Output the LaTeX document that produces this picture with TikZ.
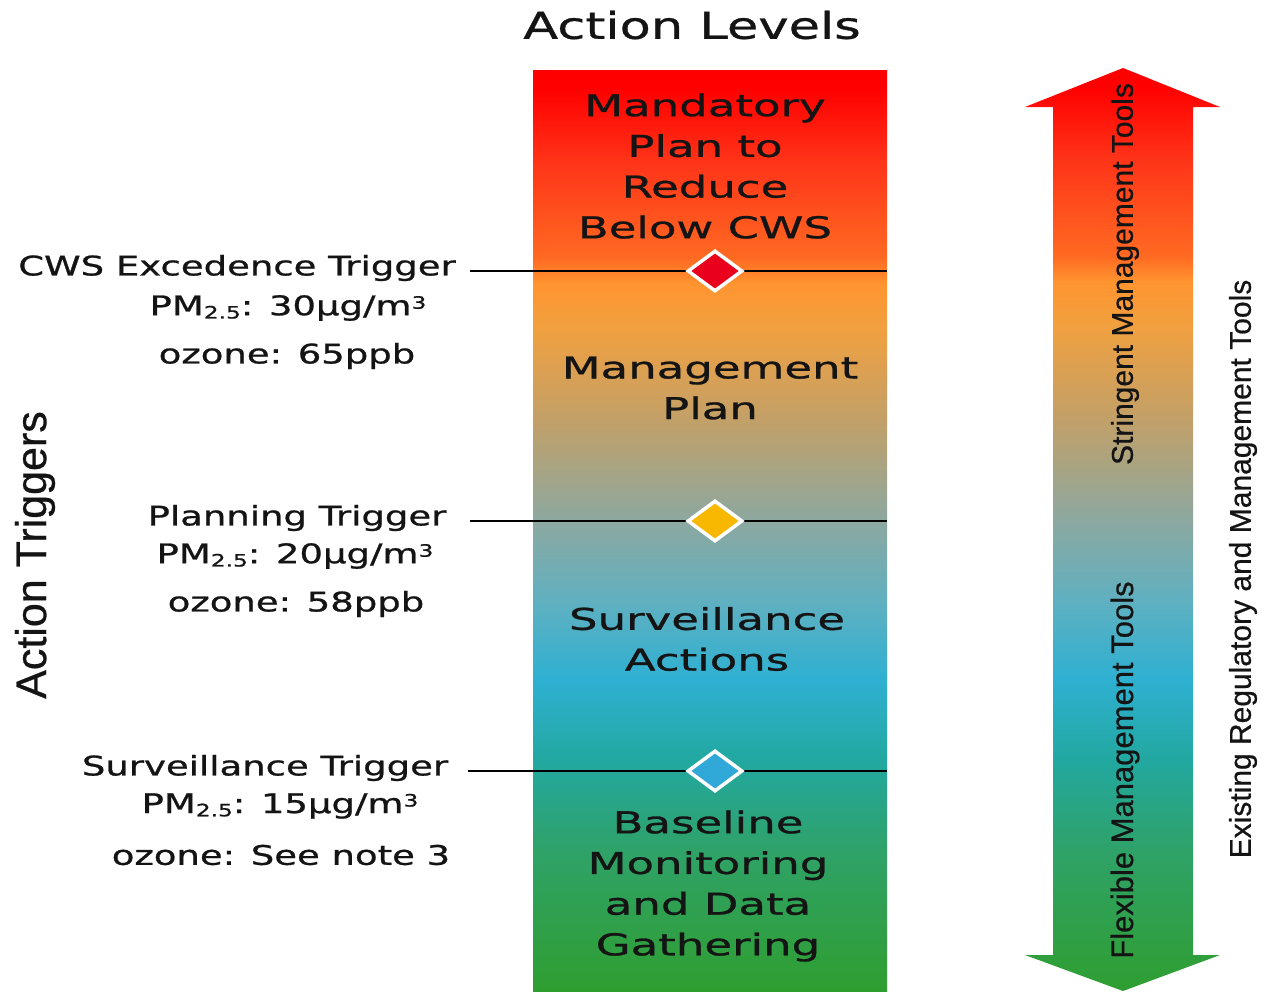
\documentclass[tikz,border=0pt]{standalone}
\usepackage{fontspec}
\usetikzlibrary{shapes.geometric}
\newfontfamily\wfont{DejaVu Sans}[FakeStretch=1.37,FakeBold=0.9]
\newfontfamily\cfont{DejaVu Sans}[FakeStretch=1.5,FakeBold=0.9]
\newfontfamily\ttlfont{DejaVu Sans}[FakeStretch=1.38,FakeBold=0.9]
\newfontfamily\nrfont{Liberation Sans}[FakeBold=0.6]
\definecolor{s0}{HTML}{2F9E30}
\definecolor{s1}{HTML}{2FA268}
\definecolor{s2}{HTML}{22A8A0}
\definecolor{s3}{HTML}{2EB0D2}
\definecolor{s4}{HTML}{60B0C0}
\definecolor{s5}{HTML}{8CA8A0}
\definecolor{s6}{HTML}{C2A068}
\definecolor{s7}{HTML}{F0A040}
\definecolor{s8}{HTML}{FF9530}
\definecolor{s9}{HTML}{FF6A22}
\definecolor{s10}{HTML}{FF3318}
\definecolor{s11}{HTML}{FF0000}
\pgfdeclareverticalshading{lvl}{100bp}{color(0bp)=(s0); color(25bp)=(s0); color(32.6bp)=(s1); color(37.5bp)=(s2); color(41.9bp)=(s3); color(46.2bp)=(s4); color(50.5bp)=(s5); color(56bp)=(s6); color(60.9bp)=(s7); color(63.4bp)=(s8); color(64.8bp)=(s9); color(70.1bp)=(s10); color(74bp)=(s11); color(100bp)=(s11)}
\definecolor{dred}{HTML}{E8001C}
\definecolor{dyel}{HTML}{F8B800}
\definecolor{dblu}{HTML}{30A8D8}
\definecolor{txt}{HTML}{141414}
\newcommand\colfont{\cfont\fontsize{30}{40.7}\selectfont}
\newcommand\trfont{\wfont\fontsize{27}{32}\selectfont}
\newcommand\sbs[1]{{\fontsize{17}{17}\selectfont\raisebox{-0.35ex}{#1}}}
\newcommand\sps[1]{{\fontsize{17}{17}\selectfont\raisebox{0.7ex}{#1}}}
\begin{document}
\begin{tikzpicture}[x=1pt,y=-1pt,
  lvltext/.style={align=center,font=\colfont,text=txt,inner sep=0},
  trig/.style={font=\trfont,text=txt,inner sep=0},
  rtext/.style={rotate=90,text=txt,inner sep=0},
  gem/.style={diamond,draw=white,line width=3.5pt,minimum width=55pt,minimum height=41pt,inner sep=0},
  trline/.style={line width=1.6pt,black}]
\useasboundingbox[fill=white] (0,0) rectangle (1266,991);
% column
\node[shading=lvl,minimum width=354pt,minimum height=921pt,anchor=north west,inner sep=0] (col) at (533,70) {};
% arrow
\shade[shading=lvl] (1123,68) -- (1220,107) -- (1193,107) -- (1193,955) -- (1220,955) -- (1123,991) -- (1025,955) -- (1053,955) -- (1053,107) -- (1025,107) -- cycle;
% title
\node[font=\ttlfont\fontsize{37}{40}\selectfont,text=txt,inner sep=0] (title) at (692,25) {Action Levels};
% level texts
\node[lvltext] (l1) at (705,166) {Mandatory\\Plan to\\Reduce\\Below CWS};
\node[lvltext] (l2) at (710,388) {Management\\Plan};
\node[lvltext] (l3) at (707,639) {Surveillance\\Actions};
\node[lvltext] (l4) at (708,886) {Baseline\\Monitoring\\and Data\\Gathering};
% trigger lines
\coordinate (t1) at (470,271);
\coordinate (t2) at (470,521);
\coordinate (t3) at (468,771);
\draw[trline] (t1) -- (t1 -| col.east);
\draw[trline] (t2) -- (t2 -| col.east);
\draw[trline] (t3) -- (t3 -| col.east);
\node[gem,fill=dred] (d1) at (715,271) {};
\node[gem,fill=dyel] (d2) at (715,521) {};
\node[gem,fill=dblu] (d3) at (715,771) {};
% trigger texts
\node[trig] (a1) at (237,268) {CWS Excedence Trigger};
\node[trig] (a2) at (288,308) {PM\sbs{2.5}: 30µg/m\sps{3}};
\node[trig] (a3) at (287,356) {ozone: 65ppb};
\node[trig] (b1) at (297,518) {Planning Trigger};
\node[trig] (b2) at (295,556) {PM\sbs{2.5}: 20µg/m\sps{3}};
\node[trig] (b3) at (296,604) {ozone: 58ppb};
\node[trig] (c1) at (265,768) {Surveillance Trigger};
\node[trig] (c2) at (280,806) {PM\sbs{2.5}: 15µg/m\sps{3}};
\node[trig] (c3) at (281,855) {ozone: See note 3};
% rotated labels
\node[rtext,font=\nrfont\fontsize{43}{43}\selectfont] (at) at (35,555) {Action Triggers};
\node[rtext,font=\nrfont\fontsize{30}{30}\selectfont] (st) at (1125,274) {Stringent Management Tools};
\node[rtext,font=\nrfont\fontsize{31}{31}\selectfont] (fl) at (1125,770) {Flexible Management Tools};
\node[rtext,font=\nrfont\fontsize{30}{30}\selectfont] (ex) at (1243,569) {Existing Regulatory and Management Tools};
\end{tikzpicture}
\end{document}
